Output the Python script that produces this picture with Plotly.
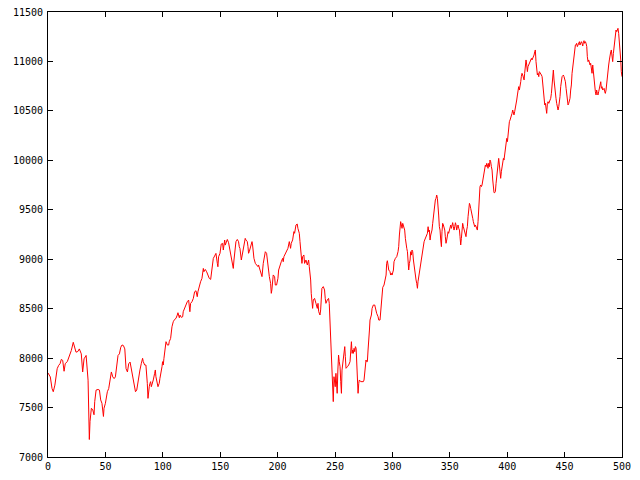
import plotly.graph_objects as go

# Series (index, value)
x_values = [
    0, 2, 3.5, 4.6, 6, 7, 8, 9.3, 10.5, 11.6, 12.8, 14, 15, 16.9, 18.6, 20.3, 22, 23.3, 24.4, 26, 27.3, 29, 29.7, 30.2,
    31.4, 32.6, 33.2, 34.9, 35.5, 36, 36.6, 37.2, 37.8, 39, 40.1, 40.7, 41.9, 43.6, 44.8, 45.9, 47, 48.3, 48.8, 50,
    50.6, 51.7, 52.9, 54, 54.7, 55.2, 56.4, 57.6, 58.7, 59.9, 61, 62.2, 63.4, 64.5, 65.7, 66.9, 67.4, 68, 69.2, 70.3,
    71.5, 72, 73.3, 74.4, 75, 76.2, 77.3, 79,
    80.1, 81.3, 82.4, 83, 84.2, 85.3, 85.9, 86.5, 87.1, 87.7, 88.2, 88.8, 89.4, 90, 90.5, 91.1, 91.7, 92.9, 93.5, 94,
    94.6, 95.2, 95.8, 96.3, 96.9, 97.5, 98.1, 98.7, 99.3, 99.8, 100.4, 101, 101.6, 102.2, 102.8, 104, 105.1, 105.6, 106.2,
    106.8, 108, 109.1, 110.3, 111.5, 112.6, 113.2, 114.4, 115, 116.1, 117.3, 117.8, 119, 120.2, 121.3, 122.5, 123.1,
    123.6, 124.2, 125.4, 126.6, 127.7, 128.9, 129.5, 130, 130.6, 131.8, 132.9, 134.1, 134.7, 135.3, 135.8, 137, 138.2,
    139.3, 140.5, 141.7, 142.2, 143.4, 144, 145.1, 146.3, 147.5, 148, 148.6, 149.8, 150.9, 152.1, 152.7, 153.9, 154.4,
    155.6, 156.2, 157.3, 157.9, 159.1, 160.2, 161.4, 162, 162.6, 163.7, 164.9, 166, 166.6,
    167.2, 168.4, 169.5, 170.7, 171.8, 172.4, 173.6, 174.2, 174.7, 175.3, 176.5, 177.7, 178.2, 178.8, 179.4, 180.6,
    181.7, 182.9, 183.4, 184.6, 185.8, 186.4, 187.5, 188.7, 189.3, 190.4, 191, 191.6, 192.8, 193.9, 194.5, 195, 195.6,
    196.2, 197.4, 198, 199.1, 200.3, 200.9, 202, 203.2, 204.4, 204.9, 205.5, 206.7, 207.9, 208.4, 209, 210.2, 210.7,
    211.3, 211.9, 213.1, 214.2, 214.8, 216, 217.1, 217.7, 218.9, 219.5, 220.6, 221.2, 221.8, 222.9, 223.5, 224.7,
    225.9, 227, 227.6, 228.8, 229.3, 229.9, 230.5, 231.1, 232.2, 233.4, 234.6, 235.2, 235.8, 236.9, 237.5, 238, 238.6,
    239.8, 240.9, 241.5, 242.1, 243.3, 244.4, 245, 245.6, 246.2, 246.8, 247.3, 247.9, 248.5, 249.1, 249.6, 250.2,
    250.8, 251.4, 251.9, 252.5, 253.1, 253.7,
    254.4, 255, 255.6, 256.1, 256.7, 257.9, 258.5, 259, 259.6, 260.8, 261.9, 263.1, 263.7, 264.3, 264.9, 265.4, 266,
    266.6, 267.2, 267.8, 268.4, 268.9, 269.5, 270.1, 270.7, 271.2, 272.4, 273.6, 274.7, 275.3, 275.9, 276.5, 277,
    277.6, 278.2, 278.8, 279.4, 280, 280.5, 281.7, 282.3, 283.4, 284.6, 285.2, 286.3, 287.5, 288.1, 289.2, 289.8,
    290.4, 291, 291.6, 292.7, 293.9, 294.5, 295, 295.6, 296.2, 296.8, 297.9, 298.5, 299.1, 299.7, 300.9, 301.4, 302.6,
    303.8, 304.9, 305.5, 306.1, 306.7, 307.2, 307.8, 308.4, 309, 309.5, 310.1, 310.7, 311.3, 311.9, 312.5, 313.1,
    313.6, 314.2, 314.8, 315.4, 315.9, 316.5, 317.1, 317.7, 318.3, 318.9, 319.4, 320, 320.6, 321.2, 321.8, 322.3,
    322.9, 323.5, 324.1, 324.7, 325.2, 325.8, 326.4, 327, 327.6, 328.1, 329.3, 330.5, 331.1, 331.6, 332.2, 332.8,
    333.4, 334, 334.5, 335.1, 335.7, 336.3, 336.9, 337.4, 338, 338.6, 339.2, 339.8, 340.3, 340.9,
    341.5, 342.1, 342.7, 343.2, 343.8, 344.4, 345, 345.6, 346.1, 346.7, 347.3, 347.9, 348.5, 349, 349.6, 350.2, 350.8,
    351.4, 351.9, 352.5, 353.1, 353.7, 354.3, 354.9, 355.4, 356, 356.6, 357.2, 357.8, 358.4, 358.9, 359.5, 360.1,
    360.7, 361.2, 361.8, 362.4, 363, 363.6, 364.1, 364.7, 365.3, 365.9, 366.5, 367.1, 367.6, 368.2, 368.8, 369.4, 370,
    370.5, 371.1, 371.7, 372.3, 372.9, 373.4, 374, 374.6, 375.2, 375.8, 376.3, 376.9, 377.5, 378.1, 378.7, 379.2,
    379.8, 380.4, 381, 381.6, 382.2, 382.7, 383.3, 383.9, 384.5, 385, 385.6, 386.2, 386.8, 387.4, 387.9, 388.5, 389.1,
    389.7, 390.3, 390.9, 391.4, 392, 392.6, 393.2, 393.8, 394.3, 394.9, 395.5, 396.1, 396.7, 397.2, 397.8, 398.4, 399,
    399.6, 400.2, 400.7, 401.3, 401.9, 402.5, 403, 403.6, 404.2, 404.8, 405.4, 405.9, 406.5, 407.1, 407.7, 408.3,
    408.9, 409.4, 410, 410.6, 411.2, 411.8, 412.3, 412.9, 413.5, 414.1, 414.7, 415.2, 415.8, 416.4, 417, 417.6, 418.1,
    418.7, 419.3, 419.9,
    421.1, 421.6, 422.2, 422.8, 423.4, 424, 424.5, 425.1, 425.7, 426.3, 426.9, 427.5, 428, 428.6, 429.2, 429.8, 430.4,
    430.9, 431.5, 432.1, 432.7, 433.3, 433.8, 434.4, 435, 435.6, 436.2, 436.7, 437.3, 437.9, 438.5, 439.1, 439.6,
    440.2, 440.8, 441.4, 442, 442.5, 443.1, 443.7, 444.3, 444.9, 445.5, 446, 446.6, 447.2, 447.8, 448.4, 448.9, 449.5,
    450.1, 450.7, 451.3, 451.8, 452.4, 453, 453.6, 454.2, 454.7, 455.3, 455.9, 456.5, 457.1, 457.6, 458.2, 458.8,
    459.4, 459.9, 460.5, 461.1, 461.7, 462.3, 462.9, 463.4, 464, 464.6, 465.2, 465.8, 466.4, 466.9, 467.5, 468.1,
    468.7, 469.3, 469.8, 470.4, 471, 471.6, 472.2, 472.7, 473.3, 473.9, 474.5, 475.1, 475.6, 476.2, 476.8, 477.4,
    477.9, 478.5, 479.1, 479.7, 480.3, 480.9, 481.5, 482, 482.6, 483.2, 483.8, 484.4, 484.9, 485.5, 486.1, 486.7,
    487.3, 487.8, 488.4, 489, 489.6, 490.2, 490.7, 491.3, 491.9, 492.5, 493.1, 493.6, 494.2, 494.8, 495.4, 496, 496.5,
    497.1, 497.7, 498.3, 498.9, 499.4, 500,
]

y_values = [
    7850, 7810, 7693, 7660, 7727, 7810, 7893, 7927, 7943, 7987, 7977, 7867, 7943, 7967, 8017, 8077, 8160, 8110, 8060,
    8067, 8093, 8043, 7893, 7860, 7993, 8027, 8027, 7777, 7460, 7177, 7360, 7427, 7493, 7477, 7427, 7560, 7677, 7683,
    7677, 7577, 7543, 7410, 7493, 7543, 7610, 7660, 7693, 7777, 7827, 7860, 7810, 7793, 7810, 7910, 8027, 8043, 8110,
    8133, 8127, 8093, 7993, 7893, 7860, 7943, 7960, 7927, 7843, 7760, 7743, 7660, 7677, 7827,
    7880, 7947, 7998, 7964, 7930, 7930, 7863, 7745, 7593, 7694, 7711, 7745, 7762, 7711, 7728, 7745, 7779, 7846, 7880,
    7812, 7779, 7745, 7711, 7728, 7745, 7795, 7829, 7880, 7913, 7964, 7930, 7998, 8048, 8149, 8166, 8132, 8132, 8166,
    8183,
    8199, 8317, 8368, 8391, 8402, 8435, 8459, 8408, 8435, 8412, 8418, 8469, 8503, 8553, 8570, 8587, 8503, 8469, 8553,
    8570, 8604, 8671, 8681, 8654, 8621, 8671, 8739, 8772, 8806, 8873, 8907, 8873, 8897, 8873, 8840, 8806, 8796, 8840,
    8941, 9008, 9032, 9059, 8958, 8924, 9025, 9059, 9153, 9160, 9093, 9194, 9143, 9187, 9200, 9167, 9126, 9076, 8958,
    8907, 8992, 9076, 9177, 9200, 9177, 9126,
    9110, 8992, 9076, 9127, 9211, 9195, 9178, 9127, 9060, 9076, 9144, 9178, 9144, 9076, 9009, 8958, 8942, 8925, 8942,
    8891, 8857, 8824, 8958, 9060, 9076, 9060, 8992, 8908, 8824, 8756, 8655, 8689, 8756, 8841, 8824, 8739, 8739, 8807,
    8891, 8942, 8975, 9009, 8975, 9026, 9060, 9076, 9093, 9110, 9178, 9144, 9110, 9161, 9195, 9279, 9262, 9346, 9356,
    9312, 9262, 9178, 9060, 8958, 9026, 9043, 8958, 8992, 8942, 8992, 8925, 8790, 8655, 8554, 8503, 8588, 8604, 8554,
    8503, 8554, 8470, 8436, 8487, 8588, 8706, 8723, 8689, 8604, 8554, 8588, 8604, 8554, 8352, 8149, 8082, 7812, 7677,
    7560, 7812, 7762, 7711, 7846, 7728, 7644, 7880, 8031, 7964,
    7913, 7762, 7644, 7879, 7930, 8065, 8116, 8014, 7897, 7913, 7930, 7964, 8048, 8166, 8048, 8082, 8048, 8099, 8065,
    8116, 8099, 7981, 7762, 7644, 7745, 7779, 7762, 7762, 7762, 7779, 7879, 7964, 7981, 7964, 7964, 8082, 8149, 8284,
    8385, 8436, 8503, 8537, 8537, 8503, 8453, 8419, 8385, 8385, 8453, 8554, 8655, 8716, 8739, 8790, 8840, 8958, 8985,
    8941, 8891, 8874, 8840, 8857, 8840, 8891, 8975, 9009, 9026, 9076, 9127, 9245, 9329, 9380, 9346, 9312, 9363, 9346,
    9329, 9295, 9211, 9127, 9110, 9076, 8975, 8891, 8958, 8992, 9076, 9042, 9093, 9076, 8992, 8925, 8857, 8823, 8790,
    8756, 8706, 8773, 8823, 8857, 8891, 8958, 8992, 9026, 9076, 9127, 9177, 9194, 9228, 9262, 9329, 9278, 9295, 9194,
    9245, 9262, 9295, 9363, 9447, 9531, 9548, 9599, 9616, 9649, 9616, 9548, 9447, 9329,
    9295, 9194, 9127, 9278, 9363, 9346, 9329, 9295, 9228, 9161, 9194, 9262, 9278, 9262, 9295, 9329, 9346, 9312, 9363,
    9370, 9329, 9295, 9329, 9369, 9346, 9295, 9329, 9346, 9312, 9295, 9228, 9144, 9211, 9329, 9363, 9329, 9295, 9278,
    9262, 9228, 9295, 9329, 9430, 9498, 9565, 9548, 9514, 9464, 9464, 9413, 9380, 9346, 9329, 9346, 9329, 9312, 9295,
    9380, 9531, 9683, 9734, 9751, 9734, 9751, 9801, 9852, 9902, 9919, 9953, 9936, 9970, 9953, 9919, 9970, 9936, 10003,
    9986, 9936, 9902, 9801, 9683, 9673, 9673, 9683, 9767, 9835, 9868, 9936, 10020, 9953, 9852, 9818, 9885, 9936, 9986,
    10020, 10003, 10071, 10138, 10206, 10222, 10189, 10273, 10374, 10391, 10408, 10425, 10435, 10475, 10509, 10492,
    10459, 10492, 10526, 10543, 10610, 10661, 10728, 10745, 10711, 10745, 10796, 10846, 10880, 10863, 10846, 10813,
    10880, 10947, 11015, 10964, 10897, 10947, 10964, 10998, 11015,
    11031, 11015, 11031, 11048, 11065, 11099, 11116, 10998, 10897, 10863, 10880, 10846, 10897, 10887, 10880, 10863,
    10846, 10779, 10694, 10610, 10560, 10576, 10526, 10475, 10576, 10593, 10576, 10593, 10610, 10627, 10677, 10745,
    10846, 10913, 10812, 10711, 10644, 10627, 10576, 10543, 10509, 10543, 10593, 10644, 10745, 10812, 10846, 10853,
    10863, 10846, 10829, 10795, 10728, 10661, 10593, 10560, 10576, 10610, 10627, 10711, 10762, 10880, 10947, 11015,
    11082, 11116, 11166, 11166, 11183, 11150, 11166, 11183, 11200, 11166, 11183, 11200, 11183, 11156, 11200, 11210,
    11183, 11200, 11183, 11150, 11048, 10998, 11015, 10998, 10964, 10981, 10913, 10880, 10964, 10880, 10812, 10745,
    10694, 10661, 10711, 10677, 10661, 10694, 10728, 10745, 10795, 10728, 10745, 10711, 10728, 10728, 10694, 10677,
    10711, 10795, 10829, 10897, 10964, 11015, 11082, 11099, 11116, 11048, 10998, 11082, 11150, 11234, 11284, 11318,
    11301, 11318, 11335, 11284, 11217, 11116, 11015, 10897, 10846,
]

x_ticks = [0, 50, 100, 150, 200, 250, 300, 350, 400, 450, 500]
y_ticks = [7000, 7500, 8000, 8500, 9000, 9500, 10000, 10500, 11000, 11500]

fig = go.Figure()
fig.add_trace(go.Scatter(
    x=x_values, y=y_values, mode="lines",
    line=dict(color="#ff0000", width=1),
    showlegend=False, hoverinfo="skip",
))

axis_common = dict(
    showgrid=False, zeroline=False, showline=True, linecolor="black", linewidth=1,
    mirror="ticks", ticks="inside", ticklen=5, tickcolor="black", tickwidth=1,
    tickfont=dict(family="DejaVu Sans Mono", size=10, color="black"),
    automargin=False, ticklabeloverflow="allow",
)

fig.update_xaxes(range=[0, 500], tickvals=x_ticks, ticktext=[str(t) for t in x_ticks], **axis_common)
fig.update_yaxes(range=[7000, 11500], tickvals=y_ticks, ticktext=[str(t) for t in y_ticks],
                 ticklabelstandoff=2, **axis_common)

# page body adds an 8px margin, so the figure is sized to fit inside 640x480
fig.update_layout(
    width=632, height=472,
    margin=dict(l=40, r=18, t=4, b=23, pad=0),
    paper_bgcolor="white", plot_bgcolor="white",
)

fig.write_html("out.html")
